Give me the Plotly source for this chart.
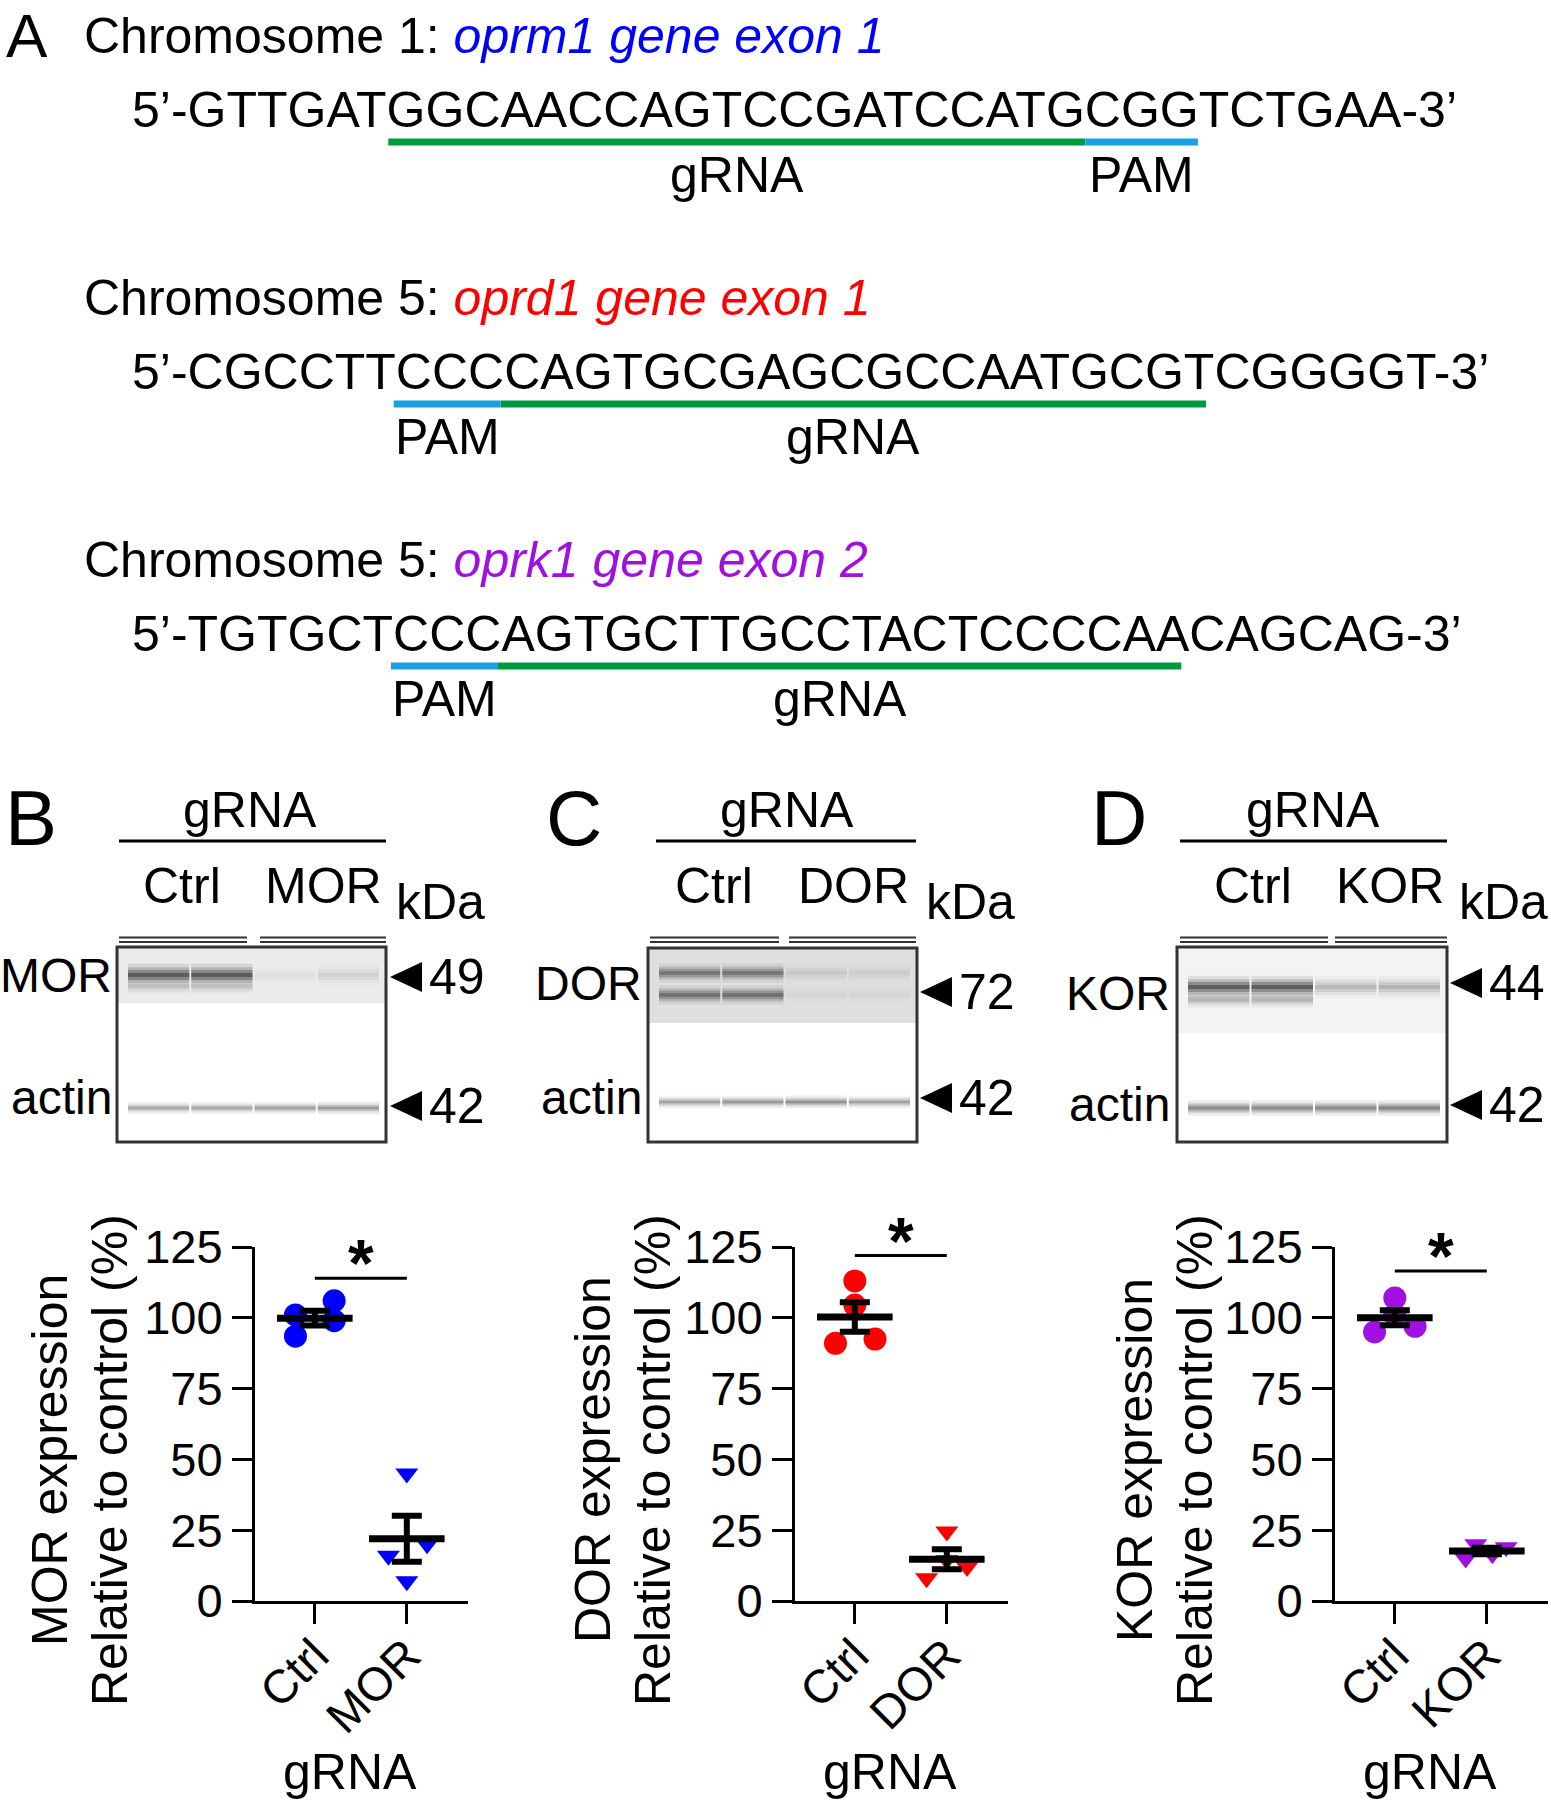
"""Opioid receptor CRISPR knockout figure: gRNA targets, western blots and quantification."""

import numpy as np
import plotly.graph_objects as go

W, H = 1551, 1800
OFF = 0  # page body margin is removed below, so figure pixels = page pixels
FONT = "Liberation Sans, Arial, Helvetica, sans-serif"
FS = 50

# ── Panel A: target sequences ─────────────────────────────────────────────
CHROM = ["Chromosome 1:", "Chromosome 5:", "Chromosome 5:"]
GENES = ["oprm1 gene exon 1", "oprd1 gene exon 1", "oprk1 gene exon 2"]
SEQS = [
    "GTTGATGGCAACCAGTCCGATCCATGCGGTCTGAA",
    "CGCCTTCCCCAGTGCGAGCGCCAATGCGTCGGGGT",
    "TGTGCTCCCAGTGCTTGCCTACTCCCCAACAGCAG",
]
GRNA_START = [6, 9, 9]
PAM_START = [26, 6, 6]
GRNA_LEN = 20
PAM_LEN = 3

# ── Panels B-D: western blots (band darkness per lane, 0-1) ──────────────
RECEPTORS = ["MOR", "DOR", "KOR"]
RECEPTOR_KDA = ["49", "72", "44"]
ACTIN_KDA = "42"
MOR_BAND = [0.95, 0.95, 0.06, 0.12]
MOR_BAND_LOW = [0.2, 0.2, 0.0, 0.0]
DOR_BAND_UP = [0.7, 0.7, 0.12, 0.1]
DOR_BAND_LOW = [0.75, 0.75, 0.05, 0.04]
KOR_BAND = [0.95, 0.95, 0.3, 0.35]
KOR_BAND_LOW = [0.35, 0.35, 0.0, 0.0]
ACTIN_B = [0.45, 0.45, 0.5, 0.55]
ACTIN_C = [0.5, 0.55, 0.6, 0.5]
ACTIN_D = [0.65, 0.65, 0.65, 0.7]

# ── Quantification: expression relative to control (%) ───────────────────
GROUP_CTRL = "Ctrl"
MOR_CTRL = [101, 93.5, 106, 99]
MOR_KO = [45, 16, 7, 20]
DOR_CTRL = [113, 104.5, 91, 92.5]
DOR_KO = [24.5, 8, 12, 14.5]
KOR_CTRL = [107, 95, 97, 101]
KOR_KO = [20, 15, 16.5, 19]
# horizontal scatter of the points inside each column
MOR_CTRL_JIT = [-0.21, -0.21, 0.21, 0.21]
MOR_KO_JIT = [0.0, -0.2, 0.0, 0.22]
DOR_CTRL_JIT = [0.0, 0.0, -0.21, 0.22]
DOR_KO_JIT = [0.0, -0.22, 0.22, 0.0]
KOR_CTRL_JIT = [0.0, -0.22, 0.22, 0.0]
KOR_KO_JIT = [-0.12, -0.23, 0.06, 0.21]
SIG_Y = [114, 122, 116.5]

COLORS = ["#0000ff", "#ff0000", "#a010e0"]
GREEN = "#009a3e"
SKY = "#1ba1e2"

# Arial / Liberation Sans advance widths (em), slightly tightened as rendered
CHAR_W = {"5": 0.556, "3": 0.556, "\u2019": 0.222, "-": 0.333,
          "G": 0.778, "T": 0.611, "C": 0.722, "A": 0.667}
EM_FIT = 0.988


def text_w(s: str, size: float = FS) -> float:
    return sum(CHAR_W[c] for c in s) * size * EM_FIT


def txt(x, y, s, size=FS, xa="center", ya="middle", **kw):
    return dict(x=x, y=y, xref="x4", yref="y4", text=s, showarrow=False,
                xanchor=xa, yanchor=ya,
                font=dict(size=size, color="black", family=FONT), **kw)


def hline(x0, x1, y, color="black", width=3):
    return dict(type="line", xref="x4", yref="y4", x0=x0, x1=x1, y0=y, y1=y,
                line=dict(color=color, width=width))


def band_shapes(x0, x1, yc, th, k):
    """Soft-edged blot band built from stacked translucent strips."""
    out = []
    if k <= 0:
        return out
    for mult, op in ((3.2, 0.09), (2.2, 0.16), (1.4, 0.26), (0.6, 0.33)):
        h = th * mult / 2
        out.append(dict(type="rect", xref="x4", yref="y4", x0=x0, x1=x1,
                        y0=yc - h, y1=yc + h, fillcolor="black",
                        opacity=min(1, op * k), line_width=0))
    return out


fig = go.Figure()
shapes = []
annotations = []

# ── Panel A ───────────────────────────────────────────────────────────────
annotations.append(txt(27, 35, "A", size=62))
SEQ_X = 133
for i in range(3):
    dy = 262 * i
    annotations.append(txt(
        82, 36 + dy,
        f"{CHROM[i]} <i><span style='color:{COLORS[i]}'>{GENES[i]}</span></i>",
        xa="left"))
    full = "5\u2019-" + SEQS[i] + "-3\u2019"
    annotations.append(txt(SEQ_X - 3, 110 + dy, full, xa="left"))
    pre = "5\u2019-"
    g0 = SEQ_X + text_w(pre + SEQS[i][:GRNA_START[i]])
    g1 = SEQ_X + text_w(pre + SEQS[i][:GRNA_START[i] + GRNA_LEN])
    p0 = SEQ_X + text_w(pre + SEQS[i][:PAM_START[i]])
    p1 = SEQ_X + text_w(pre + SEQS[i][:PAM_START[i] + PAM_LEN])
    shapes.append(hline(g0, g1, 142 + dy, GREEN, 7))
    shapes.append(hline(p0, p1, 142 + dy, SKY, 7))
    annotations.append(txt((g0 + g1) / 2, 175 + dy, "gRNA"))
    annotations.append(txt((p0 + p1) / 2, 175 + dy, "PAM"))

# ── Panels B-D: blots ─────────────────────────────────────────────────────
BLOTS = [
    dict(letter="B", lx=31, gx=250, gl=(119, 386), cx=182, kx=323, kda=394,
         segs=[(119, 247), (260, 386)], box=(117, 386, 947, 1142),
         strip=(1003, "#ebebeb"), lr=112, ly=975, ay=1097, tip=390,
         tys=(977, 1106),
         bands=[(975, 7, MOR_BAND), (987, 4, MOR_BAND_LOW), (1108, 4, ACTIN_B)]),
    dict(letter="C", lx=574, gx=787, gl=(656, 916), cx=714, kx=853, kda=924,
         segs=[(650, 779), (789, 916)], box=(648, 917, 948, 1142),
         strip=(1023, "#dfdfdf"), lr=642, ly=983, ay=1097, tip=920,
         tys=(992, 1098),
         bands=[(973, 6, DOR_BAND_UP), (995, 6, DOR_BAND_LOW), (1102, 4, ACTIN_C)]),
    dict(letter="D", lx=1119, gx=1313, gl=(1180, 1447), cx=1253, kx=1390, kda=1457,
         segs=[(1180, 1328), (1335, 1447)], box=(1177, 1447, 947, 1142),
         strip=(1033, "#f3f3f3"), lr=1170, ly=993, ay=1104, tip=1450,
         tys=(983, 1105),
         bands=[(987, 7, KOR_BAND), (1000, 5, KOR_BAND_LOW), (1108, 5, ACTIN_D)]),
]

for i, b in enumerate(BLOTS):
    l, r, t, btm = b["box"]
    annotations.append(txt(b["lx"], 818, b["letter"], size=78))
    annotations.append(txt(b["gx"], 810, "gRNA"))
    shapes.append(hline(*b["gl"], 841))
    annotations.append(txt(b["cx"], 886, GROUP_CTRL))
    annotations.append(txt(b["kx"], 886, RECEPTORS[i]))
    annotations.append(txt(b["kda"], 902, "kDa", xa="left"))
    for s0, s1 in b["segs"]:
        shapes.append(hline(s0, s1, 937.5, "#333", 2))
        shapes.append(hline(s0, s1, 942, "#333", 2))
    shapes.append(dict(type="rect", xref="x4", yref="y4", x0=l, x1=r, y0=t,
                       y1=b["strip"][0], fillcolor=b["strip"][1], line_width=0))
    in0, in1 = l + 10, r - 6
    lw = (in1 - in0) / 4
    for yc, th, ks in b["bands"]:
        for j, k in enumerate(ks):
            shapes += band_shapes(in0 + j * lw + 1, in0 + (j + 1) * lw - 1, yc, th, k)
    shapes.append(dict(type="rect", xref="x4", yref="y4", x0=l, x1=r, y0=t,
                       y1=btm, line=dict(color="#333", width=3)))
    annotations.append(txt(b["lr"] + 2, b["ly"], RECEPTORS[i], size=48, xa="right"))
    annotations.append(txt(b["lr"] + 2, b["ay"], "actin", size=48, xa="right"))
    for ty, lab in zip(b["tys"], (RECEPTOR_KDA[i], ACTIN_KDA)):
        tx = b["tip"]
        shapes.append(dict(type="path", xref="x4", yref="y4",
                           path=f"M{tx},{ty} L{tx + 32},{ty - 15} L{tx + 32},{ty + 15} Z",
                           fillcolor="black", line_width=0))
        annotations.append(txt(tx + 37, ty, lab, xa="left"))

# ── Quantification scatter plots ──────────────────────────────────────────
PANELS = [
    (MOR_CTRL, MOR_KO, MOR_CTRL_JIT, MOR_KO_JIT),
    (DOR_CTRL, DOR_KO, DOR_CTRL_JIT, DOR_KO_JIT),
    (KOR_CTRL, KOR_KO, KOR_CTRL_JIT, KOR_KO_JIT),
]
X_LEFT = [255, 795, 1335]
Y_DOM = [1 - (1601 - OFF) / H, 1 - (1247 - OFF) / H]
TITLE_X = [(50, 110), (593, 653), (1135, 1195)]

axis_common = dict(showline=True, linewidth=3, linecolor="black", ticks="outside",
                   ticklen=20, tickwidth=3, tickcolor="black", showgrid=False,
                   zeroline=False, automargin=False,
                   tickfont=dict(size=47, color="black", family=FONT))

for i, (ctrl, ko, jc, jk) in enumerate(PANELS):
    xa = "x" if i == 0 else f"x{i + 1}"
    ya = "y" if i == 0 else f"y{i + 1}"
    col = COLORS[i]
    fig.add_trace(go.Scatter(
        x=np.array(jc), y=ctrl, mode="markers", xaxis=xa, yaxis=ya,
        marker=dict(symbol="circle", size=23, color=col), showlegend=False))
    fig.add_trace(go.Scatter(
        x=1 + np.array(jk), y=ko, mode="markers", xaxis=xa, yaxis=ya,
        marker=dict(symbol="triangle-down", size=20, color=col), showlegend=False))
    means = [np.mean(ctrl), np.mean(ko)]
    sems = [np.std(ctrl, ddof=1) / np.sqrt(len(ctrl)),
            np.std(ko, ddof=1) / np.sqrt(len(ko))]
    fig.add_trace(go.Scatter(
        x=[0, 1], y=means, mode="markers", xaxis=xa, yaxis=ya,
        marker=dict(symbol="line-ew", size=54, color="black",
                    line=dict(width=7, color="black")),
        error_y=dict(type="data", array=sems, width=15, thickness=6, color="black"),
        showlegend=False))

    x0 = X_LEFT[i]
    fig.update_layout({
        ("xaxis" if i == 0 else f"xaxis{i + 1}"): dict(
            domain=[(x0 - OFF) / W, (x0 + 213 - OFF) / W], range=[-0.65, 1.665],
            anchor=ya, tickvals=[0, 1], ticktext=[GROUP_CTRL, RECEPTORS[i]],
            tickangle=-45, ticklabelstandoff=-15, **axis_common),
        ("yaxis" if i == 0 else f"yaxis{i + 1}"): dict(
            domain=Y_DOM, range=[0, 125], anchor=xa,
            tickvals=[0, 25, 50, 75, 100, 125], ticklabelstandoff=0,
            **axis_common),
    })

    # significance bar and star (star lifted above the bar in pixels)
    shapes.append(dict(type="line", xref=xa, yref=ya, x0=0, x1=1,
                       y0=SIG_Y[i], y1=SIG_Y[i], line=dict(color="black", width=3)))
    annotations.append(dict(x=0.5, y=SIG_Y[i], xref=xa, yref=ya,
                            text="<b>*</b>", showarrow=False, yshift=15,
                            font=dict(size=66, color="black", family=FONT)))

    t1, t2 = TITLE_X[i]
    annotations.append(txt(t1, 1460, f"{RECEPTORS[i]} expression", textangle=-90))
    annotations.append(txt(t2, 1460, "Relative to control (%)", textangle=-90))
    annotations.append(txt(x0 + 95, 1772, "gRNA"))

# pixel-space overlay axes (page coordinates) for text and drawing
fig.add_trace(go.Scatter(x=[OFF], y=[OFF], xaxis="x4", yaxis="y4", mode="markers",
                         marker=dict(opacity=0), hoverinfo="skip", showlegend=False))
fig.update_layout(
    xaxis4=dict(domain=[0, 1], range=[OFF, W + OFF], visible=False, anchor="y4",
                automargin=False),
    yaxis4=dict(domain=[0, 1], range=[H + OFF, OFF], visible=False, anchor="x4",
                automargin=False),
    width=W, height=H,
    margin=dict(l=0, r=0, t=0, b=0, pad=0),
    paper_bgcolor="white", plot_bgcolor="rgba(0,0,0,0)",
    font=dict(family=FONT, color="black", size=FS),
    showlegend=False,
    shapes=shapes, annotations=annotations,
)

fig.write_html("out.html", config={"displayModeBar": False},
               post_script="document.body.style.margin = '0px';")
